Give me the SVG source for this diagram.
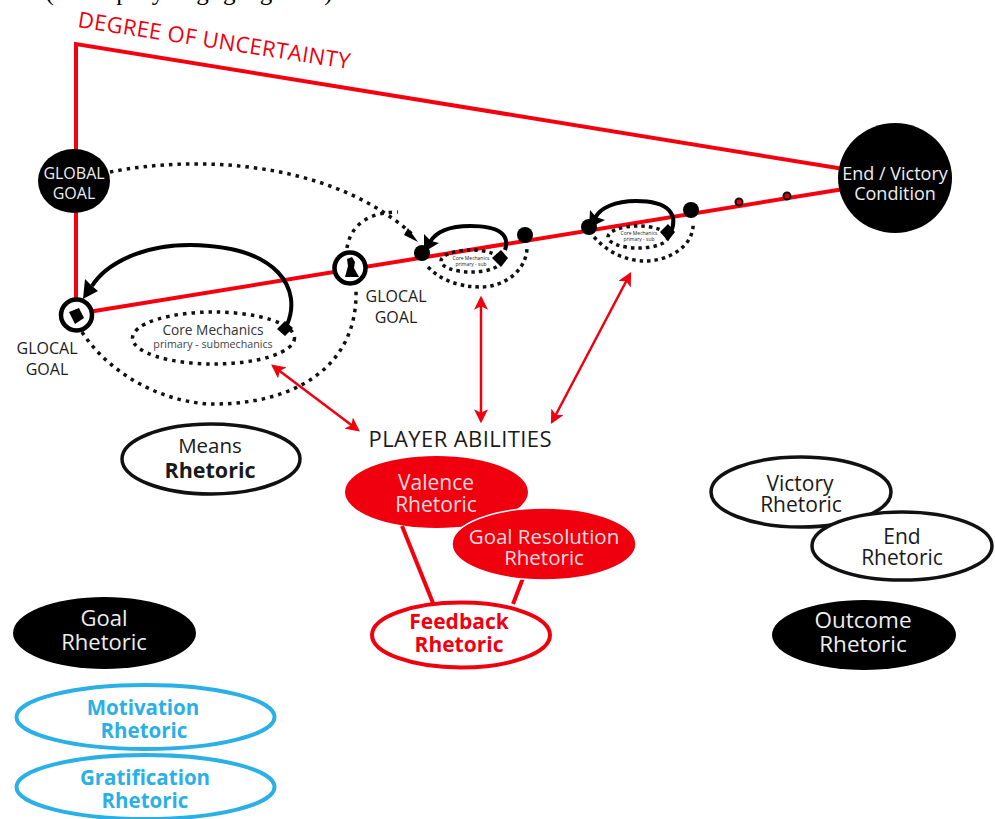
<svg xmlns="http://www.w3.org/2000/svg" width="995" height="819" viewBox="0 0 995 819">
<defs>
<style>
text{font-family:"Open Sans","Noto Sans","DejaVu Sans",sans-serif;text-anchor:middle}
.red{fill:none;stroke:#f5000f;stroke-width:4}
.thin{fill:none;stroke:#f0000f;stroke-width:2.5}
.dot{fill:none;stroke:#111;stroke-width:3.5;stroke-dasharray:3.5 5}
.dots{fill:none;stroke:#111;stroke-width:3.5;stroke-dasharray:3.5 4}
.arc{fill:none;stroke:#000;stroke-width:4}
.k{fill:#000}
.w{fill:#eee}
.d{fill:#1a1a1a}
.r{fill:#f0000f}
.b{fill:#2bb0e6;font-weight:700}
.e{fill:#fff;stroke:#111;stroke-width:3.5}
.n{fill:#fff;stroke:#000;stroke-width:4.5}
.m{font-weight:500}
</style>
<marker id="ra" viewBox="0 0 12 12" refX="10" refY="6" markerWidth="14" markerHeight="14" markerUnits="userSpaceOnUse" orient="auto-start-reverse"><path d="M0 0L12 6L0 12L3 6Z" fill="#f0000f"/></marker>
</defs>
<text x="193" y="0" style="font-family:'Liberation Serif',serif;font-size:25px" textLength="295">(multiplayer gaging arts).</text>
<g id="connectors">
<path class="red" d="M76 310V44L850 170"/>
<path class="red" d="M76 314L850 188"/>
<path class="dot" d="M110 172C195 155 330 160 412 234"/>
<path d="M408 228L418 242L404 235Z" class="k"/>
<path class="dot" d="M347 248C350 228 365 212 398 212"/>
<path class="dot" d="M82 332C110 375 165 404 215 404C290 404 358 370 356 290"/>
<path class="arc" d="M287 325C302 290 280 246 190 245C140 245 105 265 92 286"/>
<path d="M83 299L85 279L92 286L98 291Z" class="k"/>
<path class="arc" d="M505 250C510 235 500 226 470 226C450 226 436 232 430 242"/>
<path d="M424 252L424 234L431 241L439 243Z" class="k"/>
<path class="dots" d="M428 267C445 285 470 287 480 287C505 287 527 270 527 247"/>
<path class="arc" d="M671 232C678 215 670 201 636 201C615 201 600 208 595 218"/>
<path d="M589 228L590 210L596 217L605 220Z" class="k"/>
<path class="dots" d="M594 237C610 255 630 261 645 261C670 261 695 245 693 222"/>
<path class="thin" d="M273 366L358 430" marker-start="url(#ra)" marker-end="url(#ra)"/>
<path class="thin" d="M481 298V421" marker-start="url(#ra)" marker-end="url(#ra)"/>
<path class="thin" d="M630 274L552 422" marker-start="url(#ra)" marker-end="url(#ra)"/>
<path class="red" d="M402 526L433 603M523 578L513 604"/>
</g>
<g id="degree-label"><text transform="translate(213 48) rotate(8.8)" font-size="22" font-weight="500" fill="#f0000f" textLength="275">DEGREE OF UNCERTAINTY</text></g>
<g id="global-goal"><ellipse cx="74" cy="181" rx="36" ry="32" class="k"/><text x="74" y="179" font-size="16" class="w">GLOBAL</text><text x="74" y="199" font-size="16" class="w">GOAL</text></g>
<g id="end-victory"><ellipse cx="895" cy="178" rx="57" ry="55" class="k"/><text x="895" y="180" font-size="18" class="w">End / Victory</text><text x="895" y="200" font-size="18" class="w">Condition</text></g>
<g id="glocal-1"><circle cx="76.500" cy="315" r="15.500" class="n"/><path d="M69 312L79 308L84 318L75 324Z" class="k"/><text x="47" y="354" font-size="16" class="d">GLOCAL</text><text x="47" y="375" font-size="16" class="d">GOAL</text></g>
<g id="glocal-2"><circle cx="350" cy="268" r="15.500" class="n"/><path d="M347 259L352 257L355 262L354 268L359 277H345L348 266Z" class="k"/><text x="396" y="302" font-size="16" class="d">GLOCAL</text><text x="396" y="323" font-size="16" class="d">GOAL</text></g>
<g id="core-mechanics"><ellipse cx="213.500" cy="338" rx="81" ry="26" class="dot"/><path d="M277 329L285 321L293 328L285 336Z" class="k"/><text x="213" y="335" font-size="13.700" fill="#333">Core Mechanics</text><text x="213" y="348" font-size="10.700" fill="#444">primary - submechanics</text></g>
<g id="step-1"><circle cx="422" cy="253" r="8" class="k"/><circle cx="525" cy="235" r="8" class="k"/><ellipse cx="471" cy="261" rx="30" ry="11" class="dots"/><path d="M492 258L501 250L508 258L501 267Z" class="k"/><text x="471" y="260" font-size="5" fill="#222">Core Mechanics</text><text x="471" y="266" font-size="5" fill="#222">primary - sub</text></g>
<g id="step-2"><circle cx="589" cy="227" r="8" class="k"/><circle cx="691" cy="210" r="8" class="k"/><ellipse cx="638" cy="237" rx="30" ry="11" class="dots"/><path d="M660 232L668 224L675 232L668 241Z" class="k"/><text x="639" y="235" font-size="5" fill="#222">Core Mechanics</text><text x="639" y="241" font-size="5" fill="#222">primary - sub</text></g>
<g id="marks"><circle cx="739" cy="202" r="3.500" fill="#e0000f" stroke="#111" stroke-width="2"/><circle cx="787" cy="196" r="3.500" fill="#e0000f" stroke="#111" stroke-width="2"/></g>
<g id="player-abilities"><text x="460" y="447" font-size="22" class="d" textLength="183">PLAYER ABILITIES</text></g>
<g id="means"><ellipse cx="211" cy="459" rx="89" ry="35" class="e"/><text x="210" y="453" font-size="20.500" class="d">Means</text><text x="210" y="478" font-size="21.500" font-weight="700" class="d">Rhetoric</text></g>
<g id="valence"><ellipse cx="436.500" cy="492" rx="91.500" ry="36" class="r"/><text x="436" y="490" font-size="21" class="m" fill="#fbdcdc">Valence</text><text x="436" y="512" font-size="21" class="m" fill="#fbdcdc">Rhetoric</text></g>
<g id="goal-resolution"><ellipse cx="544" cy="544" rx="92" ry="36" class="r" stroke="#fff" stroke-width="1.500"/><text x="544" y="544" font-size="20.500" class="m" fill="#fbdcdc">Goal Resolution</text><text x="544" y="565" font-size="20.500" class="m" fill="#fbdcdc">Rhetoric</text></g>
<g id="feedback"><ellipse cx="461" cy="635" rx="89" ry="32.500" fill="#fff" stroke="#f0000f" stroke-width="4"/><text x="459" y="629" font-size="21" font-weight="700" class="r">Feedback</text><text x="459" y="652" font-size="21" font-weight="700" class="r">Rhetoric</text></g>
<g id="goal-rhetoric"><ellipse cx="104.500" cy="633" rx="91.500" ry="36" class="k"/><text x="104" y="626" font-size="22" class="w">Goal</text><text x="104" y="650" font-size="22" class="w">Rhetoric</text></g>
<g id="motivation"><ellipse cx="145.500" cy="717" rx="129" ry="32" fill="#fff" stroke="#2bb0e6" stroke-width="4"/><text x="143" y="715" font-size="20.500" class="b">Motivation</text><text x="144" y="738" font-size="20.500" class="b">Rhetoric</text></g>
<g id="gratification"><ellipse cx="145.500" cy="787" rx="129" ry="32" fill="#fff" stroke="#2bb0e6" stroke-width="4"/><text x="145" y="785" font-size="20.500" class="b">Gratification</text><text x="145" y="808" font-size="20.500" class="b">Rhetoric</text></g>
<g id="victory"><ellipse cx="801" cy="492" rx="90" ry="35" class="e"/><text x="800" y="491" font-size="21" class="d">Victory</text><text x="801" y="512" font-size="21" class="d">Rhetoric</text></g>
<g id="end"><ellipse cx="902" cy="546" rx="90" ry="34" class="e"/><text x="902" y="544" font-size="21" class="d">End</text><text x="902" y="565" font-size="21" class="d">Rhetoric</text></g>
<g id="outcome"><ellipse cx="864" cy="635" rx="92" ry="35" class="k"/><text x="863" y="628" font-size="22.500" class="w">Outcome</text><text x="863" y="652" font-size="22.500" class="w">Rhetoric</text></g>
</svg>
